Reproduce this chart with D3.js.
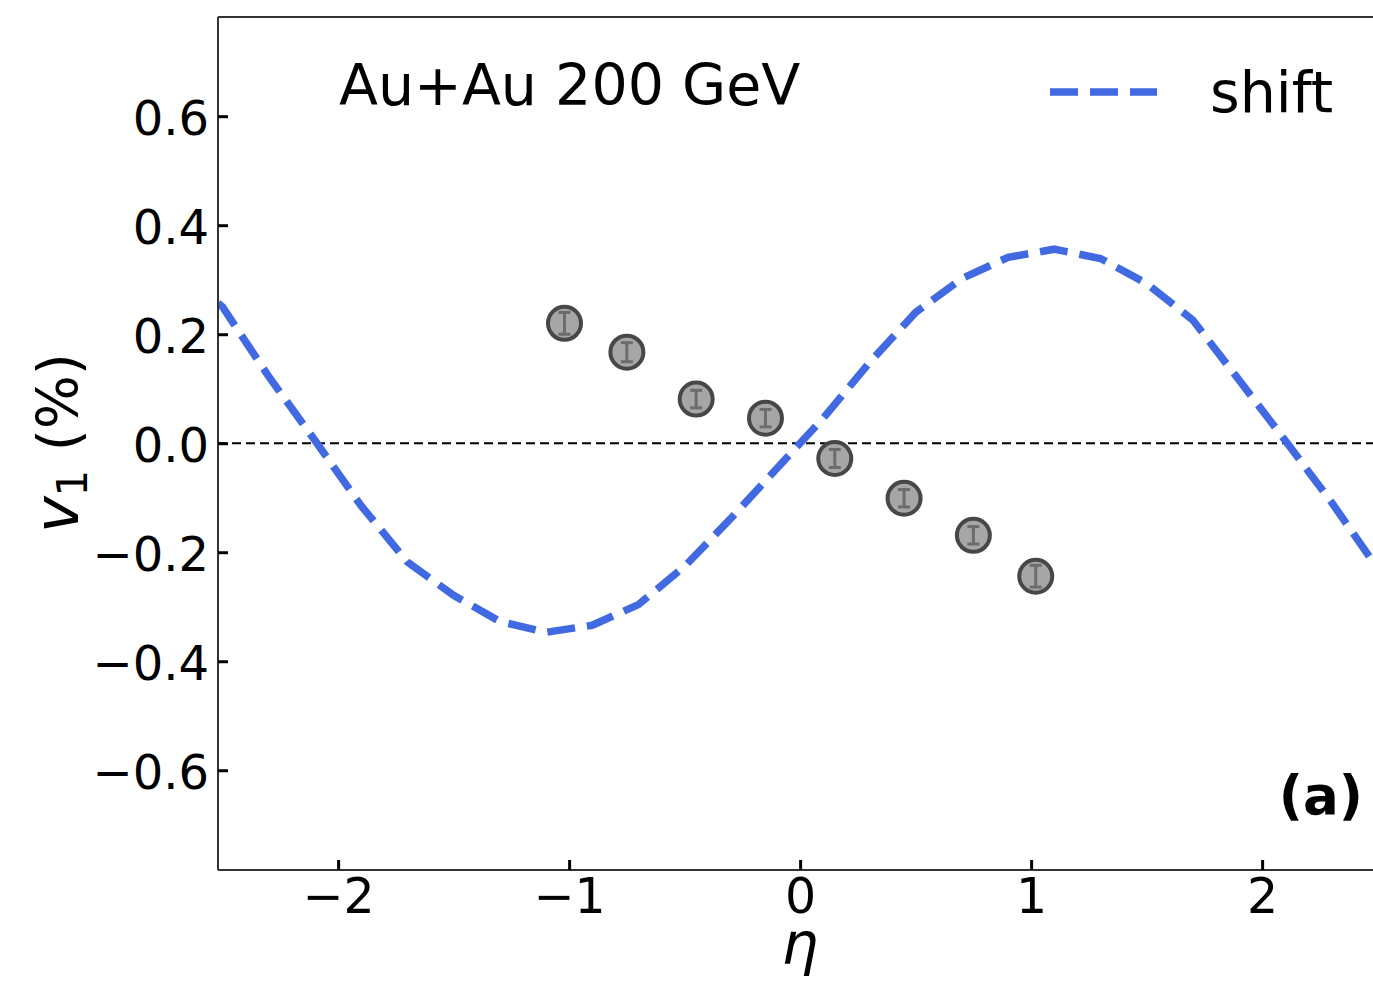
<!DOCTYPE html>
<html lang="en">
<head>
<meta charset="UTF-8">
<title>v1 vs eta, Au+Au 200 GeV</title>
<script src="https://d3js.org/d3.v7.min.js"></script>
<style>
  html, body { margin: 0; padding: 0; background: #fff; }
  svg text { font-family: "DejaVu Sans", sans-serif; fill: #000; }
</style>
</head>
<body>
<div id="chart"></div>
<script>
// -- data --
const etaCurve = [-2.52, -2.5, -2.3, -2.1, -1.9, -1.7, -1.5, -1.3, -1.1, -0.9, -0.7, -0.5, -0.3, -0.1,
                  0.1, 0.3, 0.5, 0.7, 0.9, 1.1, 1.3, 1.5, 1.7, 1.9, 2.1, 2.3, 2.5];
const v1Shift  = [0.257, 0.25, 0.122, 0.005, -0.115, -0.218, -0.279, -0.327, -0.347, -0.334, -0.296, -0.226, -0.138, -0.046,
                  0.046, 0.148, 0.24, 0.302, 0.341, 0.356, 0.339, 0.293, 0.226, 0.116, 0.005, -0.108, -0.23];

const etaData = [-1.02, -0.75, -0.45, -0.15, 0.15, 0.45, 0.75, 1.02];
const v1Data  = [0.220, 0.167, 0.081, 0.046, -0.028, -0.101, -0.169, -0.244];
const v1Err   = [0.020, 0.0175, 0.016, 0.016, 0.0165, 0.016, 0.016, 0.020];

const xTicks = [-2, -1, 0, 1, 2];
const yTicks = [-0.6, -0.4, -0.2, 0.0, 0.2, 0.4, 0.6];

// -- dimensions --
const width = 1373, height = 981;
const mLeft = 218, mRight = 1373, mTop = 17, mBottom = 870;

const x = d3.scaleLinear().domain([-2.52, 2.48]).range([mLeft, mRight]);
const y = d3.scaleLinear().domain([-0.783, 0.782]).range([mBottom, mTop]);

const svg = d3.select("#chart").append("svg")
    .attr("width", width)
    .attr("height", height);

svg.append("defs").append("clipPath").attr("id", "clip")
  .append("rect")
    .attr("x", mLeft).attr("y", mTop)
    .attr("width", mRight - mLeft).attr("height", mBottom - mTop);

const plot = svg.append("g").attr("clip-path", "url(#clip)");

// zero line
plot.append("line")
    .attr("x1", mLeft).attr("x2", mRight)
    .attr("y1", y(0)).attr("y2", y(0))
    .attr("stroke", "#000")
    .attr("stroke-width", 2)
    .attr("stroke-dasharray", "9,5");

// shift curve
const line = d3.line()
    .x((d, i) => x(etaCurve[i]))
    .y(d => y(d));

plot.append("path")
    .datum(v1Shift)
    .attr("d", line)
    .attr("fill", "none")
    .attr("stroke", "#4169e1")
    .attr("stroke-width", 7.5)
    .attr("stroke-dasharray", "28,12");

// data points
const pts = plot.append("g").selectAll("g")
    .data(etaData.map((e, i) => ({eta: e, v: v1Data[i], err: v1Err[i]})))
    .enter().append("g");

pts.append("circle")
    .attr("cx", d => x(d.eta))
    .attr("cy", d => y(d.v))
    .attr("r", 16.5)
    .attr("fill", "#a6a6a6")
    .attr("stroke", "#474747")
    .attr("stroke-width", 4);

pts.append("line")
    .attr("x1", d => x(d.eta)).attr("x2", d => x(d.eta))
    .attr("y1", d => y(d.v - d.err)).attr("y2", d => y(d.v + d.err))
    .attr("stroke", "#6c6c6c").attr("stroke-width", 3);

pts.selectAll(".cap")
    .data(d => [d.v - d.err, d.v + d.err].map(v => ({eta: d.eta, v: v})))
    .enter().append("line")
    .attr("x1", d => x(d.eta) - 6).attr("x2", d => x(d.eta) + 6)
    .attr("y1", d => y(d.v)).attr("y2", d => y(d.v))
    .attr("stroke", "#6c6c6c").attr("stroke-width", 3);

// spines
svg.append("line")
    .attr("x1", mLeft).attr("x2", mLeft).attr("y1", mTop).attr("y2", mBottom)
    .attr("stroke", "#333").attr("stroke-width", 2);
svg.append("line")
    .attr("x1", mLeft).attr("x2", mRight).attr("y1", mBottom).attr("y2", mBottom)
    .attr("stroke", "#333").attr("stroke-width", 2);
svg.append("line")
    .attr("x1", mLeft).attr("x2", mRight).attr("y1", mTop).attr("y2", mTop)
    .attr("stroke", "#333").attr("stroke-width", 2);

// -- axes, ticks pointing in --
const fmtMinus = s => s.replace("-", "\u2212");

const xAxis = svg.append("g")
    .attr("transform", `translate(0,${mBottom})`)
    .call(d3.axisBottom(x).tickValues(xTicks).tickSizeInner(-10).tickSizeOuter(0)
        .tickFormat(d => fmtMinus(d3.format("d")(d))));
xAxis.select(".domain").remove();
xAxis.selectAll(".tick line").attr("stroke", "#000").attr("stroke-width", 3);
xAxis.selectAll(".tick text")
    .attr("y", 43).attr("dy", 0)
    .style("font-size", "49px")
    .attr("fill", "#000");

const yAxis = svg.append("g")
    .attr("transform", `translate(${mLeft},0)`)
    .call(d3.axisLeft(y).tickValues(yTicks).tickSizeInner(-10).tickSizeOuter(0)
        .tickFormat(d => fmtMinus(d3.format(".1f")(d))));
yAxis.select(".domain").remove();
yAxis.selectAll(".tick line").attr("stroke", "#000").attr("stroke-width", 3);
yAxis.selectAll(".tick text")
    .attr("x", -9).attr("dy", 18)
    .style("font-size", "48px")
    .attr("fill", "#000");

// axis labels
svg.append("text")
    .attr("x", 800).attr("y", 964)
    .attr("text-anchor", "middle")
    .style("font-size", "58px")
    .style("font-style", "italic")
    .text("\u03b7");

const yl = svg.append("text")
    .attr("transform", "translate(78,443) rotate(-90)")
    .attr("text-anchor", "middle")
    .style("font-size", "57px");
yl.append("tspan").style("font-style", "italic").style("font-size", "62px").text("v");
yl.append("tspan").attr("dy", 9).style("font-size", "42px").text("1");
yl.append("tspan").attr("dy", -9).text("\u00a0(%)");

// annotations
svg.append("text")
    .attr("x", 339).attr("y", 105)
    .style("font-size", "57px")
    .text("Au+Au 200 GeV");

svg.append("text")
    .attr("x", 1363).attr("y", 814)
    .attr("text-anchor", "end")
    .style("font-size", "53px")
    .style("font-weight", "bold")
    .text("(a)");

// legend
svg.append("line")
    .attr("x1", 1050).attr("x2", 1157).attr("y1", 92).attr("y2", 92)
    .attr("stroke", "#4169e1")
    .attr("stroke-width", 7.5)
    .attr("stroke-dasharray", "28,12");
svg.append("text")
    .attr("x", 1210).attr("y", 112)
    .style("font-size", "57px")
    .text("shift");
</script>
</body>
</html>
